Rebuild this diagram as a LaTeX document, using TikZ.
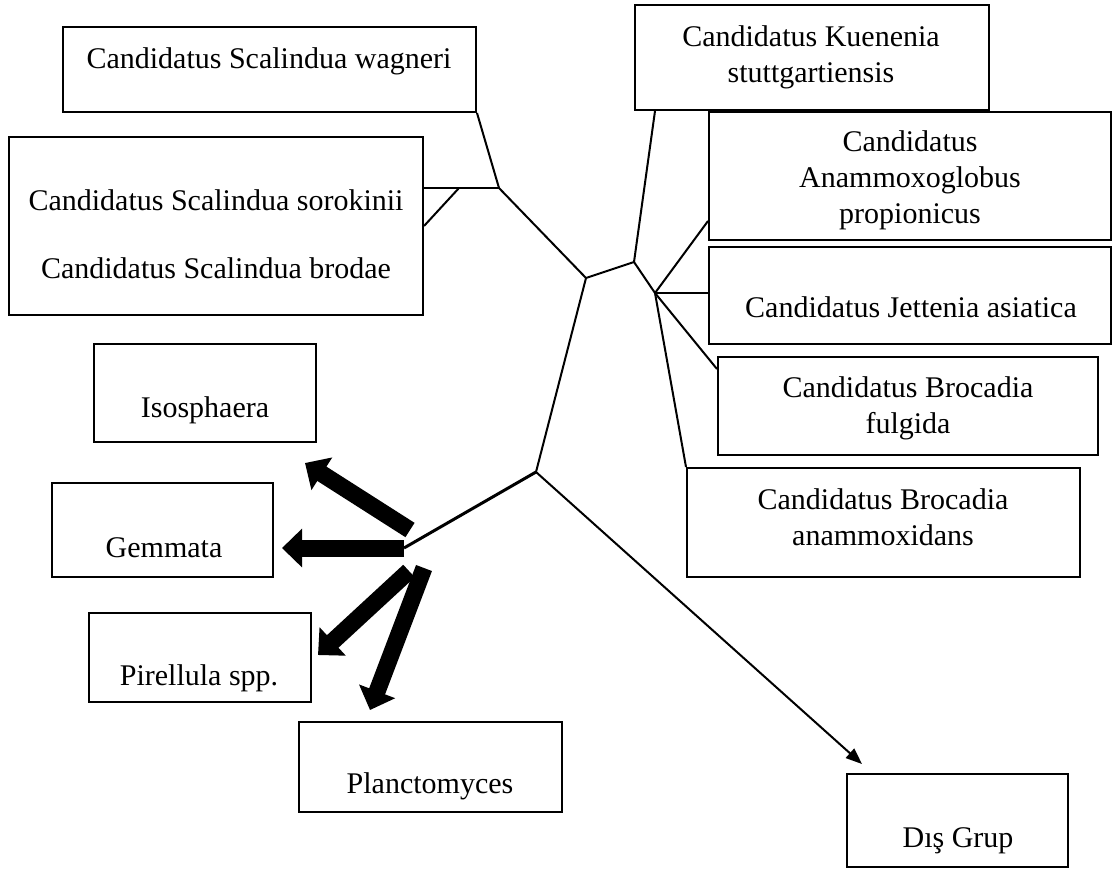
\documentclass[tikz,border=0pt]{standalone}
\usepackage{fontspec}
\setmainfont{Liberation Serif}
\usetikzlibrary{positioning,fit,calc,arrows.meta}

\begin{document}
\begin{tikzpicture}[x=0.4pt,y=-0.4pt,
  taxon/.style={draw,line width=0.8pt,inner sep=0pt},
  taxname/.style={inner sep=0pt,align=center,anchor=base,font=\fontsize{12}{14.4}\selectfont},
  branch/.style={line width=0.8pt},
  fat/.style={line width=6.8pt,-{Triangle[length=8pt,width=15pt]}}]
  \useasboundingbox (0,0) rectangle (1112,869);
  \node[taxon,fit={(63,27) (476,112)}](wagneri){};
  \node[taxon,fit={(9,137) (423,315)}](soro){};
  \node[taxon,fit={(635,5) (989,110)}](kuen){};
  \node[taxon,fit={(709,112) (1111,240)}](anam){};
  \node[taxon,fit={(709,247) (1111,344)}](jett){};
  \node[taxon,fit={(718,357) (1098,455)}](fulg){};
  \node[taxon,fit={(687,468) (1080,577)}](anx){};
  \node[taxon,fit={(94,344) (316,442)}](iso){};
  \node[taxon,fit={(52,483) (273,577)}](gem){};
  \node[taxon,fit={(89,613) (311,702)}](pir){};
  \node[taxon,fit={(299,722) (562,812)}](plan){};
  \node[taxon,fit={(847,774) (1068,867)}](dis){};
  \node[taxname](wagneriT) at (269,68){Candidatus Scalindua wagneri};
  \node[taxname](soroT) at (216,278){Candidatus Scalindua sorokinii\\[12.8pt]Candidatus Scalindua brodae};
  \node[taxname](kuenT) at (811,82){Candidatus Kuenenia\\stuttgartiensis};
  \node[taxname](anamT) at (910,223){Candidatus\\Anammoxoglobus\\propionicus};
  \node[taxname](jettT) at (911,317){Candidatus Jettenia asiatica};
  \node[taxname](fulgT) at (908,433){Candidatus Brocadia\\fulgida};
  \node[taxname](anxT) at (883,545){Candidatus Brocadia\\anammoxidans};
  \node[taxname](isoT) at (205,417){Isosphaera};
  \node[taxname](gemT) at (164,557){Gemmata};
  \node[taxname](pirT) at (199,685){Pirellula spp.};
  \node[taxname](planT) at (430,793){Planctomyces};
  \node[taxname](disT) at (958,847){Dı\c{s} Grup};
  \coordinate (sc) at (499,188);
  \coordinate (tick) at (459,188);
  \coordinate (j1) at (586,278);
  \coordinate (j2) at (634,262);
  \coordinate (j3) at (655,293);
  \coordinate (j4) at (536,472);
  \coordinate (root) at (404,548);
  \coordinate (isoS) at (410,530);
  \coordinate (isoE) at (305,463);
  \coordinate (gemE) at (282,548);
  \coordinate (pirS) at (409,571);
  \coordinate (pirE) at (318,655);
  \coordinate (planS) at (424,568);
  \coordinate (planE) at (370,710);
  \draw[branch] (wagneri.south east) -- (sc) -- (j1) -- (j2) -- (kuen.south -| j3);
  \draw[branch] (soro.east |- sc) -- (sc);
  \draw[branch] (soro.east) -- (tick);
  \draw[branch] (j2) -- (j3);
  \draw[branch] (j3) -- ($(anam.south west)+(0,-20)$);
  \draw[branch] (j3) -- (jett.west |- j3);
  \draw[branch] (j3) -- ($(fulg.north west)+(0,13)$);
  \draw[branch] (j3) -- (anx.north west);
  \draw[branch] (j1) -- (j4);
  \draw[line width=1.2pt] (j4) -- (root);
  \draw[branch,-{Triangle[length=6.5pt,width=5pt]}] (j4) -- ($(dis.north west)+(16,-9)$);
  \draw[fat] (isoS) -- (isoE);
  \draw[fat] (root) -- (gemE);
  \draw[fat] (pirS) -- (pirE);
  \draw[fat] (planS) -- (planE);
\end{tikzpicture}
\end{document}
